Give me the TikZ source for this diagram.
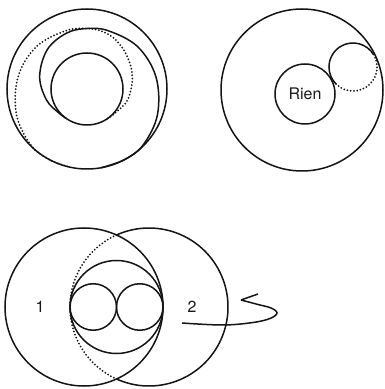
\documentclass[tikz,border=0pt]{standalone}
\usepackage{fontspec}
\setsansfont{TeX Gyre Heros}

\definecolor{cLine}{gray}{0.08}
\definecolor{cText}{gray}{0.1}

\begin{document}
\begin{tikzpicture}[x=1pt, y=1pt, line width=1.5pt,
    ring/.style={draw=cLine},
    dots/.style={draw=cLine, dash pattern=on 0pt off 3.3pt, line cap=round, line width=2pt},
    lab/.style={font=\sffamily\fontsize{16}{16}\selectfont, text=cText}]

\useasboundingbox (0,0) rectangle (384,389);

% ── Top left: two rings and the two spirals ──
\begin{scope}[shift={(87,300)}]
\draw[ring] (0,0) circle[radius=80];
\draw[ring] (0,0) circle[radius=36];
\draw[ring] plot[smooth, tension=0.6] coordinates {(235:36) (220:37) (195:42) (165:49)
    (135:56) (110:59.5) (90:60.5) (70:62) (40:66) (10:70) (-20:75) (-45:79.3) (-62:80) (-80:80)};
\draw[dots] plot[smooth, tension=0.6] coordinates {(-55:36) (-40:37) (-15:42) (15:47)
    (40:52) (60:57) (75:59.5) (90:60.5) (110:62) (140:66) (170:70) (200:75) (225:79.3) (242:80) (258:80)};
\end{scope}

% ── Top right: Rien ──
\coordinate (big) at (302,299);
\draw[ring] (big) circle[radius=81];
\node[circle, ring, minimum size=60pt, inner sep=0pt, lab] (rien) at (305,295) {Rien};
\coordinate (bub) at (353,322);
\draw[ring] (bub) ++(30:24) arc[start angle=30, end angle=225, radius=24];
\draw[dots] (bub) ++(225:24) arc[start angle=225, end angle=390, radius=24];

% ── Bottom: circles 1 and 2 ──
\coordinate (c1) at (84,82);
\coordinate (c2) at (149,82);
\draw[ring] (c1) circle[radius=79];
\draw[ring] (c2) ++(-114.3:79) arc[start angle=-114.3, end angle=114.3, radius=79];
\draw[dots] (c2) ++(114.3:79) arc[start angle=114.3, end angle=245.7, radius=79];
\draw[ring] (116.5,82) circle[radius=46.5];
\draw[ring] (93.25,82) circle[radius=23.25];
\draw[ring] (139.75,82) circle[radius=23.25];
\node[lab] (one) at (40,82) {1};
\node[lab] (two) at (192,82) {2};

% ── Turning arrow ──
\coordinate (start) at (182,66);
\coordinate (tip) at (241,89);
\coordinate (barb) at (258,95);
\draw[ring] plot[smooth, tension=0.6] coordinates {(start) (223,64) (253,66.5) (270,70.5)
    (277,76) (271,81) (258,84.5) (tip)};
\draw[ring] (tip) -- (barb);

\end{tikzpicture}
\end{document}
